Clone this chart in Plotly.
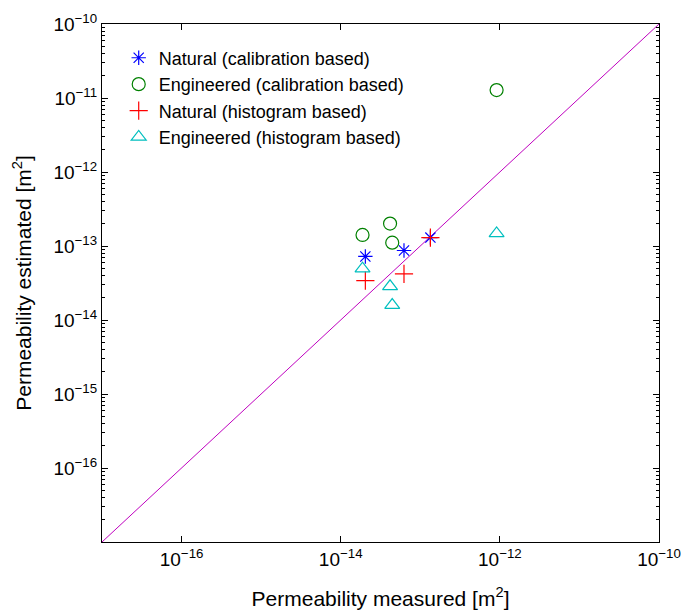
import plotly.graph_objects as go

# Measured vs. estimated permeability [m^2]
natural_measured = [2.04e-14, 6.24e-14, 1.34e-13]
natural_calib_est = [7.22e-14, 8.7e-14, 1.30e-13]
natural_hist_est = [3.40e-14, 4.21e-14, 1.30e-13]

engineered_measured = [1.88e-14, 4.17e-14, 4.44e-14, 9.1e-13]
engineered_calib_est = [1.41e-13, 2.01e-13, 1.11e-13, 1.28e-11]
engineered_hist_est = [4.94e-14, 2.85e-14, 1.59e-14, 1.48e-13]

axis_limits = [1e-17, 1e-10]
x_exponents = [-16, -14, -12, -10]
y_exponents = [-16, -15, -14, -13, -12, -11, -10]
y_minor = [k * 10.0 ** e for e in range(-17, -10) for k in range(2, 10)]

FONT = "Liberation Sans, Arial, Helvetica, sans-serif"


def power_label(e):
    return "10<sup>\u2212%d</sup>" % abs(e)


fig = go.Figure()

# 1:1 reference line
fig.add_trace(go.Scatter(
    x=axis_limits, y=axis_limits, mode="lines",
    line=dict(color="#BF00BF", width=1), showlegend=False, hoverinfo="skip",
))

fig.add_trace(go.Scatter(
    x=natural_measured, y=natural_calib_est, mode="markers",
    name="Natural (calibration based)",
    marker=dict(symbol="asterisk-open", size=12, color="#0000FF",
                line=dict(color="#0000FF", width=1.2)),
))
fig.add_trace(go.Scatter(
    x=engineered_measured, y=engineered_calib_est, mode="markers",
    name="Engineered (calibration based)",
    marker=dict(symbol="circle-open", size=13, color="#008000",
                line=dict(color="#008000", width=1.2)),
))
fig.add_trace(go.Scatter(
    x=natural_measured, y=natural_hist_est, mode="markers",
    name="Natural (histogram based)",
    marker=dict(symbol="cross-thin-open", size=13, color="#FF0000",
                line=dict(color="#FF0000", width=1.2)),
))
fig.add_trace(go.Scatter(
    x=engineered_measured, y=engineered_hist_est, mode="markers",
    name="Engineered (histogram based)",
    marker=dict(symbol="triangle-up-open", size=13, color="#00BFBF",
                line=dict(color="#00BFBF", width=1.2)),
))

axis_common = dict(
    type="log",
    range=[-17, -10],
    showgrid=False,
    zeroline=False,
    showline=True,
    linecolor="black",
    linewidth=1.2,
    mirror="ticks",
    ticks="inside",
    ticklen=6,
    tickcolor="black",
    automargin=False,
    tickfont=dict(family=FONT, size=19, color="black"),
    title_font=dict(family=FONT, size=21, color="black"),
)

fig.update_xaxes(
    **axis_common,
    tickmode="array",
    tickvals=[10.0 ** e for e in x_exponents],
    ticktext=[power_label(e) for e in x_exponents],
    title_text="Permeability measured [m<sup>2</sup>]",
    title_standoff=22,
)
fig.update_yaxes(
    **axis_common,
    tickmode="array",
    tickvals=[10.0 ** e for e in y_exponents],
    ticktext=[power_label(e) for e in y_exponents],
    minor=dict(tickmode="array", tickvals=y_minor, ticks="inside",
               ticklen=3, tickcolor="black"),
    title_text="Permeability estimated [m<sup>2</sup>]",
    title_standoff=16,
)

fig.update_layout(
    width=694, height=613,
    margin=dict(l=102, r=35, t=24, b=71),
    plot_bgcolor="white",
    paper_bgcolor="white",
    font=dict(family=FONT, size=18, color="black"),
    legend=dict(
        x=0.03, y=0.97, xanchor="left", yanchor="top",
        bgcolor="rgba(0,0,0,0)", borderwidth=0,
        font=dict(family=FONT, size=18, color="black"),
        tracegroupgap=0, itemsizing="trace",
    ),
    showlegend=True,
)

fig.write_html("out.html")
